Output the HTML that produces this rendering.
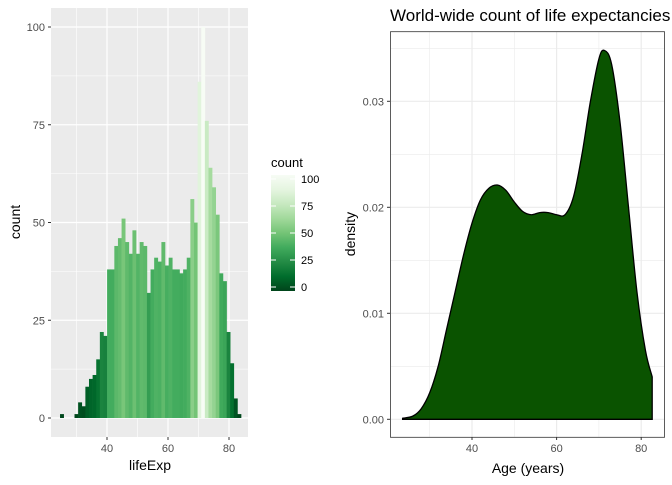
<!DOCTYPE html>
<html><head><meta charset="utf-8"><style>
body{margin:0;background:#fff;font-family:"Liberation Sans",sans-serif}
svg text{font-family:"Liberation Sans",sans-serif}
</style></head><body>
<svg id="s" width="672" height="480" xmlns="http://www.w3.org/2000/svg">
<defs><linearGradient id="lg" x1="0" y1="1" x2="0" y2="0">
<stop offset="0" stop-color="#00441B"/><stop offset="0.125" stop-color="#006D2C"/><stop offset="0.25" stop-color="#238B45"/><stop offset="0.375" stop-color="#41AB5D"/><stop offset="0.5" stop-color="#74C476"/><stop offset="0.625" stop-color="#A1D99B"/><stop offset="0.75" stop-color="#C7E9C0"/><stop offset="0.875" stop-color="#E5F5E0"/><stop offset="1" stop-color="#F7FCF5"/></linearGradient></defs>
<g id="left"></g>
<g id="right"></g>
</svg>
<script>
const histCounts=[1,0,0,0,1,4,3,8,10,11,15,22,21,38,38,44,46,51,45,42,48,42,45,44,32,38,41,40,45,39,41,38,38,37,38,41,56,50,86,100,76,64,59,52,37,35,22,14,5,1];
const binStart=24.6, binWidth=1.187;
const histXTicks=[40,60,80];
const histYTicks=[0,25,50,75,100];
const legendTicks=[0,25,50,75,100];
const densYears=[23.6,26,28,30,32,34,36,38,40,42,44,46,48,50,52,54,56,58,60,62,64,66,68,70,71.3,73,75,77,79,81,82.6];
const densValues=[0.0001,0.0003,0.001,0.0025,0.005,0.0085,0.012,0.0155,0.0185,0.0207,0.0218,0.0221,0.0216,0.0205,0.0196,0.0193,0.0195,0.0195,0.0193,0.0193,0.021,0.025,0.030,0.034,0.0348,0.0335,0.028,0.020,0.012,0.0065,0.004];
const densXTicks=[40,60,80];
const densYTicks=[0,0.01,0.02,0.03];
const NS="http://www.w3.org/2000/svg";
function mk(p,t,a,txt){const e=document.createElementNS(NS,t);for(const k in a)e.setAttribute(k,a[k]);if(txt!=null)e.textContent=txt;p.appendChild(e);return e;}
const stops=["#00441B","#006D2C","#238B45","#41AB5D","#74C476","#A1D99B","#C7E9C0","#E5F5E0","#F7FCF5"];
function hx(c){return [1,3,5].map(i=>parseInt(c.substr(i,2),16));}
function col(v){let t=Math.max(0,Math.min(1,v/100))*8;let i=Math.min(7,Math.floor(t)),f=t-i;const a=hx(stops[i]),b=hx(stops[i+1]);return "rgb("+a.map((x,j)=>Math.round(x+(b[j]-x)*f)).join(",")+")";}
// left
const L=document.getElementById('left');
const lx=v=>107+(v-40)*3.05, ly=v=>418-v*3.91;
let e=mk(L,'rect',{x:51,y:8,width:197,height:429,fill:'#EBEBEB'});


[30,50,70].forEach(v=>mk(L,'line',{x1:lx(v),x2:lx(v),y1:8,y2:437,stroke:'#fff','stroke-width':0.6}));
[12.5,37.5,62.5,87.5].forEach(v=>mk(L,'line',{x1:51,x2:248,y1:ly(v),y2:ly(v),stroke:'#fff','stroke-width':0.6}));
histXTicks.forEach(v=>{mk(L,'line',{x1:lx(v),x2:lx(v),y1:8,y2:437,stroke:'#fff','stroke-width':1.2});mk(L,'line',{x1:lx(v),x2:lx(v),y1:437,y2:440,stroke:'#333'});
e=mk(L,'text',{x:lx(v),y:452,'font-size':11,fill:'#4D4D4D','text-anchor':'middle'},v);

});
histYTicks.forEach(v=>{mk(L,'line',{x1:51,x2:248,y1:ly(v),y2:ly(v),stroke:'#fff','stroke-width':1.2});mk(L,'line',{x1:48,x2:51,y1:ly(v),y2:ly(v),stroke:'#333'});
e=mk(L,'text',{x:45,y:ly(v)+4,'font-size':11,fill:'#4D4D4D','text-anchor':'end'},v);

});
histCounts.forEach((c,i)=>{if(!c)return;const x0=lx(binStart+i*binWidth),x1=lx(binStart+(i+1)*binWidth);
e=mk(L,'rect',{x:x0,y:ly(c),width:x1-x0+0.3,height:ly(0)-ly(c),fill:col(c)});

});
e=mk(L,'text',{x:150,y:470,'font-size':14,fill:'#000','text-anchor':'middle'},'lifeExp');


e=mk(L,'text',{x:20,y:222,'font-size':14,fill:'#000','text-anchor':'middle',transform:'rotate(-90 20 222)'},'count');


// legend
e=mk(L,'text',{x:271,y:167,'font-size':13,fill:'#000'},'count');


e=mk(L,'rect',{x:271,y:175,width:24,height:116,fill:'url(#lg)'});


const gy=v=>287-v*1.08;
legendTicks.forEach(v=>{mk(L,'line',{x1:271,x2:276,y1:gy(v),y2:gy(v),stroke:'#fff'});mk(L,'line',{x1:290,x2:295,y1:gy(v),y2:gy(v),stroke:'#fff'});
e=mk(L,'text',{x:301,y:gy(v)+4,'font-size':11,fill:'#000'},v);

});
// right
const R=document.getElementById('right');
const rx=v=>472+(v-40)*4.23, ry=v=>419.3-v*10600;
e=mk(R,'rect',{x:390.5,y:31.7,width:274,height:405.6,fill:'#fff'});


[30,50,70].forEach(v=>mk(R,'line',{x1:rx(v),x2:rx(v),y1:32,y2:437,stroke:'#EBEBEB','stroke-width':0.6}));
[0.005,0.015,0.025,0.035].forEach(v=>mk(R,'line',{x1:391,x2:664,y1:ry(v),y2:ry(v),stroke:'#EBEBEB','stroke-width':0.6}));
densXTicks.forEach(v=>{mk(R,'line',{x1:rx(v),x2:rx(v),y1:32,y2:437,stroke:'#EBEBEB','stroke-width':1.2});mk(R,'line',{x1:rx(v),x2:rx(v),y1:437,y2:440,stroke:'#333'});
e=mk(R,'text',{x:rx(v),y:452,'font-size':11,fill:'#4D4D4D','text-anchor':'middle'},v);

});
densYTicks.forEach(v=>{mk(R,'line',{x1:391,x2:664,y1:ry(v),y2:ry(v),stroke:'#EBEBEB','stroke-width':1.2});mk(R,'line',{x1:387,x2:390,y1:ry(v),y2:ry(v),stroke:'#333'});
e=mk(R,'text',{x:384,y:ry(v)+4,'font-size':11,fill:'#4D4D4D','text-anchor':'end'},v.toFixed(2));

});
let d="M"+rx(densYears[0])+","+ry(0);
densYears.forEach((y,i)=>{d+=" L"+rx(y).toFixed(2)+","+ry(densValues[i]).toFixed(2);});
d+=" L"+rx(densYears[densYears.length-1])+","+ry(0)+" Z";
// smooth with catmull-rom
let pts=densYears.map((y,i)=>[rx(y),ry(densValues[i])]);
let sd="M"+pts[0][0]+","+ry(0)+" L"+pts[0][0]+","+pts[0][1];
for(let i=0;i<pts.length-1;i++){const p0=pts[Math.max(0,i-1)],p1=pts[i],p2=pts[i+1],p3=pts[Math.min(pts.length-1,i+2)];
sd+=" C"+(p1[0]+(p2[0]-p0[0])/6)+","+(p1[1]+(p2[1]-p0[1])/6)+" "+(p2[0]-(p3[0]-p1[0])/6)+","+(p2[1]-(p3[1]-p1[1])/6)+" "+p2[0]+","+p2[1];}
sd+=" L"+pts[pts.length-1][0]+","+ry(0)+" Z";
e=mk(R,'path',{d:sd,fill:'#0A5300',stroke:'#000','stroke-width':1.3});


mk(R,'rect',{x:390.5,y:31.7,width:274,height:405.6,fill:'none',stroke:'#333','stroke-width':0.8});
e=mk(R,'text',{x:528,y:473,'font-size':14,fill:'#000','text-anchor':'middle'},'Age (years)');


e=mk(R,'text',{x:355,y:234,'font-size':14,fill:'#000','text-anchor':'middle',transform:'rotate(-90 355 234)'},'density');


e=mk(R,'text',{x:390,y:21,'font-size':17,fill:'#000'},'World-wide count of life expectancies');


</script>
</body></html>
